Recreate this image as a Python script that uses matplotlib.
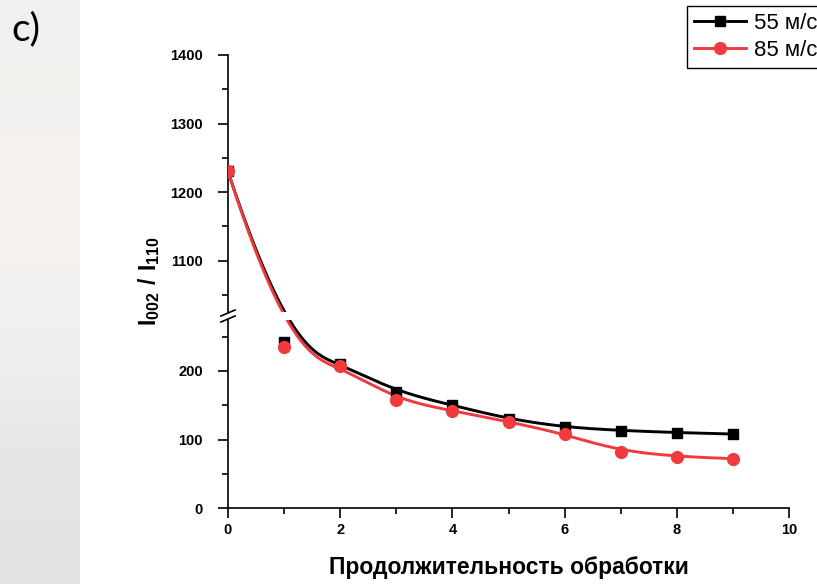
import numpy as np
import matplotlib
matplotlib.use('Agg')

import matplotlib.pyplot as plt
from matplotlib.ticker import MultipleLocator

# --- Data ---
TIME = [0, 1, 2, 3, 4, 5, 6, 7, 8, 9]
RATIO_55 = [1230, 243, 210, 170, 150, 130, 118, 113, 110, 108]
RATIO_85 = [1230, 235, 207, 158, 142, 126, 108, 82, 75, 72]
LABELS = ['55 м/с', '85 м/с']
COLORS = ['#000000', '#ef3b3d']
MARKERS = ['s', 'o']
X_LABEL = 'Продолжительность обработки'
Y_LABEL = r'$\mathbf{I_{002}\ /\ I_{110}}$'

# y-axis break: lower part 0..LO_TOP, upper part HI_BOT..1400
PX_PER_UNIT = 0.685
LO_TOP = (508 - 320) / PX_PER_UNIT
HI_BOT = 1400 - (312 - 55) / PX_PER_UNIT
BREAK_SHIFT = HI_BOT - (LO_TOP + 8 / PX_PER_UNIT)   # value removed by the break

plt.rcParams['font.family'] = ['Liberation Sans', 'DejaVu Sans']
plt.rcParams['mathtext.fontset'] = 'custom'
plt.rcParams['mathtext.bf'] = 'Liberation Sans:bold'
plt.rcParams['mathtext.rm'] = 'Liberation Sans'


def to_display(v):
    v = np.asarray(v, float)
    return np.where(v > LO_TOP + 100, v - BREAK_SHIFT, v)


def from_display(z):
    z = np.asarray(z, float)
    return np.where(z > LO_TOP + 4 / PX_PER_UNIT, z + BREAK_SHIFT, z)


def bspline(xs, ys, k=3, n=800):
    # clamped cubic B-spline with the points as control points (Origin "B-Spline" line)
    cp = np.column_stack([xs, ys]).astype(float)
    m = len(cp)
    knots = np.concatenate([np.zeros(k), np.linspace(0, 1, m - k + 1), np.ones(k)])
    t = np.linspace(0, 1, n)
    t[-1] -= 1e-9
    N = np.zeros((n, len(knots) - 1))
    for i in range(len(knots) - 1):
        N[:, i] = (knots[i] <= t) & (t < knots[i + 1])
    for d in range(1, k + 1):
        Nn = np.zeros((n, len(knots) - 1 - d))
        for i in range(len(knots) - 1 - d):
            a = knots[i + d] - knots[i]
            b = knots[i + d + 1] - knots[i + 1]
            left = (t - knots[i]) / a * N[:, i] if a > 0 else 0
            right = (knots[i + d + 1] - t) / b * N[:, i + 1] if b > 0 else 0
            Nn[:, i] = left + right
        N = Nn
    pts = N @ cp
    return pts[:, 0], pts[:, 1]


W, H = 817, 584
fig = plt.figure(figsize=(W / 100, H / 100), dpi=100)

# light photo-like strip on the left
bg = fig.add_axes([0, 0, 80 / W, 1])
grad = np.array([[0.945, 0.943, 0.935], [0.96, 0.95, 0.94], [0.96, 0.948, 0.94],
                 [0.95, 0.945, 0.94], [0.905, 0.905, 0.905], [0.89, 0.89, 0.89]])
bg.imshow(grad[:, None, :], aspect='auto', interpolation='bicubic', extent=[0, 1, 0, 1])
bg.axis('off')
fig.text(11 / W, 1 - 29 / H, 'c)', fontsize=28, family='Lato', va='center', ha='left')

left = 228 / W
width = (789 - 228) / W
ax_lo = fig.add_axes([left, 1 - 508 / H, width, (508 - 320) / H])
ax_hi = fig.add_axes([left, 1 - 312 / H, width, (312 - 55) / H])

handles = []
for ys, c, mk, lab, ms in zip([RATIO_55, RATIO_85], COLORS, MARKERS, LABELS, [7.5, 8.5]):
    # spline is built in the broken (display) space, as the original software does
    sx, sz = bspline(TIME, to_display(ys))
    sy = from_display(sz)
    for ax in (ax_lo, ax_hi):
        ax.plot(sx, sy, color=c, lw=2.1, zorder=3)
        ax.plot(TIME, ys, ls='none', marker=mk, color=c, ms=ms, zorder=4)
    h, = ax_hi.plot([], [], color=c, lw=2.1, marker=mk, ms=ms, label=lab)
    handles.append(h)

ax_lo.set_ylim(0, LO_TOP)
ax_hi.set_ylim(HI_BOT, 1400)
for ax in (ax_lo, ax_hi):
    ax.set_xlim(0, 10)
    ax.spines['top'].set_visible(False)
    ax.spines['right'].set_visible(False)
    ax.spines['left'].set_linewidth(1.2)
    ax.spines['bottom'].set_linewidth(1.2)
    ax.set_facecolor('none')
    ax.yaxis.set_major_locator(MultipleLocator(100))
    ax.yaxis.set_minor_locator(MultipleLocator(50))
    ax.xaxis.set_major_locator(MultipleLocator(2))
    ax.xaxis.set_minor_locator(MultipleLocator(1))
    ax.tick_params(which='major', direction='out', length=7, width=1.2, labelsize=10.5)
    ax.tick_params(axis='y', which='major', pad=11)
    ax.tick_params(which='minor', direction='out', length=4, width=1.2)
    for lbl in ax.get_xticklabels() + ax.get_yticklabels():
        lbl.set_fontweight('bold')

ax_hi.spines['bottom'].set_visible(False)
ax_hi.tick_params(axis='x', which='both', bottom=False, labelbottom=False)
ax_lo.set_xlabel(X_LABEL, fontsize=16.5, fontweight='bold', labelpad=14)

# axis break marks
for yy in (313, 319):
    fig.add_artist(plt.Line2D([(228 - 7) / W, (228 + 7) / W],
                              [1 - (yy + 3) / H, 1 - (yy - 3) / H],
                              color='black', lw=1.2))

fig.text(149 / W, 1 - 281 / H, Y_LABEL, rotation=90, fontsize=16.5,
         ha='center', va='center')

fig.legend(handles=handles, loc='upper left', bbox_to_anchor=(687 / W, 1 - 6 / H),
           frameon=True, fancybox=False, edgecolor='black', framealpha=1,
           fontsize=16, handlelength=2.35, handletextpad=0.36, borderpad=0.3,
           labelspacing=0.29, borderaxespad=0)

fig.savefig('out.png', dpi=100)
